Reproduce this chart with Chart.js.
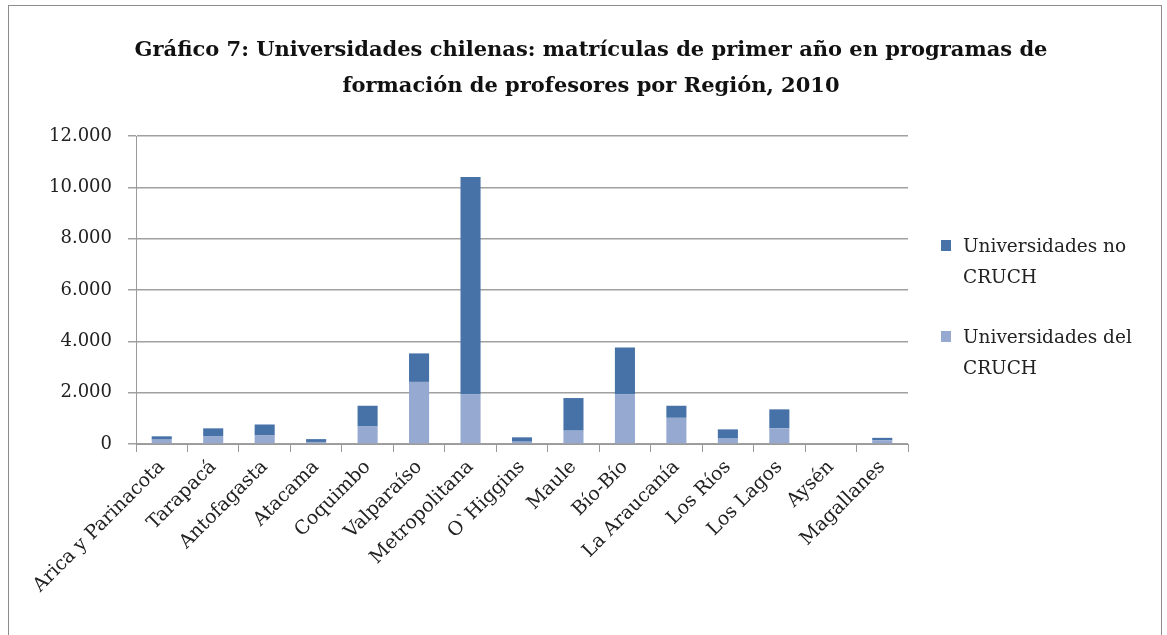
<!DOCTYPE html>
<html>
<head>
<meta charset="utf-8">
<script src="https://cdn.jsdelivr.net/npm/chart.js@4"></script>
<style>
    body { margin: 0; background: #fff; }
    #wrap { position: relative; width: 1167px; height: 635px; }
    #frame { position: absolute; left: 8px; top: 5px; width: 1152px; height: 640px; border: 1px solid #8c8c8c; pointer-events: none; }
    #title { position: absolute; left: 91px; width: 1000px; top: 31px; text-align: center; font-family: "DejaVu Serif", serif;
        font-size: 21px; font-weight: bold; color: #111; line-height: 36px; }
    #legend { position: absolute; left: 941px; top: 230px; font-family: "DejaVu Serif", serif; font-size: 18.5px; color: #222; line-height: 31px; }
    .item { position: relative; padding-left: 22px; margin-bottom: 29px; }
    .box { position: absolute; left: 0; top: 10px; width: 10px; height: 11px; }
</style>
</head>
<body>
<div id="wrap">
    <canvas id="chart" width="1167" height="635"></canvas>
    <div id="title"></div>
    <div id="frame"></div>
    <div id="legend"></div>
</div>
<script>
        // Regions (categories)
        const regions = ['Arica y Parinacota', 'Tarapacá', 'Antofagasta', 'Atacama', 'Coquimbo', 'Valparaíso',
            'Metropolitana', 'O`Higgins', 'Maule', 'Bío-Bío', 'La Araucanía', 'Los Ríos', 'Los Lagos', 'Aysén', 'Magallanes'];

        // First-year enrolments, CRUCH universities (bottom segment)
        const cruch = [170, 290, 330, 80, 680, 2420, 1930, 90, 520, 1930, 1020, 210, 610, 0, 140];

        // First-year enrolments, non-CRUCH universities (top segment)
        const noCruch = [130, 320, 430, 110, 810, 1110, 8470, 170, 1270, 1830, 470, 360, 740, 0, 100];

        const seriesNames = ['Universidades no CRUCH', 'Universidades del CRUCH'];
        const legendLines = [['Universidades no', 'CRUCH'], ['Universidades del', 'CRUCH']];
        const colors = ['#4672A8', '#95A9D1'];

        const titleLines = ['Gráfico 7: Universidades chilenas: matrículas de primer año en programas de',
            'formación de profesores por Región, 2010'];

        // number format with dot as thousands separator
        function fmt(v) {
            return v.toString().replace(/\B(?=(\d{3})+(?!\d))/g, '.');
        }

        // HTML legend so the labels can wrap onto two lines
        function buildLegend() {
            const el = document.getElementById('legend');
            legendLines.forEach((lines, i) => {
                const div = document.createElement('div');
                div.className = 'item';
                div.innerHTML = `<span class="box" style="background:${colors[i]}"></span>${lines.join('<br>')}`;
                el.appendChild(div);
            });
        }

        document.getElementById('title').innerHTML = titleLines.join('<br>');

        const serif = '"DejaVu Serif", serif';
        const ctx = document.getElementById('chart').getContext('2d');
        const chart = new Chart(ctx, {
            type: 'bar',
            data: {
                labels: regions,
                datasets: [
                    { label: seriesNames[1], data: cruch, backgroundColor: colors[1] },
                    { label: seriesNames[0], data: noCruch, backgroundColor: colors[0] }
                ]
            },
            options: {
                responsive: false,
                animation: false,
                layout: { padding: { left: 0, right: 259, top: 136, bottom: 0 } },
                datasets: { bar: { barPercentage: 0.39, categoryPercentage: 1 } },
                scales: {
                    x: {
                        stacked: true,
                        grid: { display: true, drawOnChartArea: false, offset: true, tickLength: 8, color: '#9a9a9a' },
                        border: { color: '#9a9a9a' },
                        ticks: { minRotation: 45, maxRotation: 45, autoSkip: false, color: '#222', padding: 4,
                            font: { family: serif, size: 19 } },
                        afterFit: scale => { scale.height = 191; }
                    },
                    y: {
                        stacked: true,
                        min: 0, max: 12000,
                        grid: { color: '#a0a0a0', lineWidth: 1.5, tickLength: 8 },
                        border: { color: '#9a9a9a' },
                        ticks: { stepSize: 2000, color: '#222', padding: 16,
                            font: { family: serif, size: 18 },
                            callback: v => fmt(v) },
                        afterFit: scale => { scale.width = 136; }
                    }
                },
                plugins: {
                    legend: { display: false },
                    tooltip: { enabled: false },
                    title: { display: false }
                }
            }
        });

        buildLegend();
</script>
</body>
</html>
